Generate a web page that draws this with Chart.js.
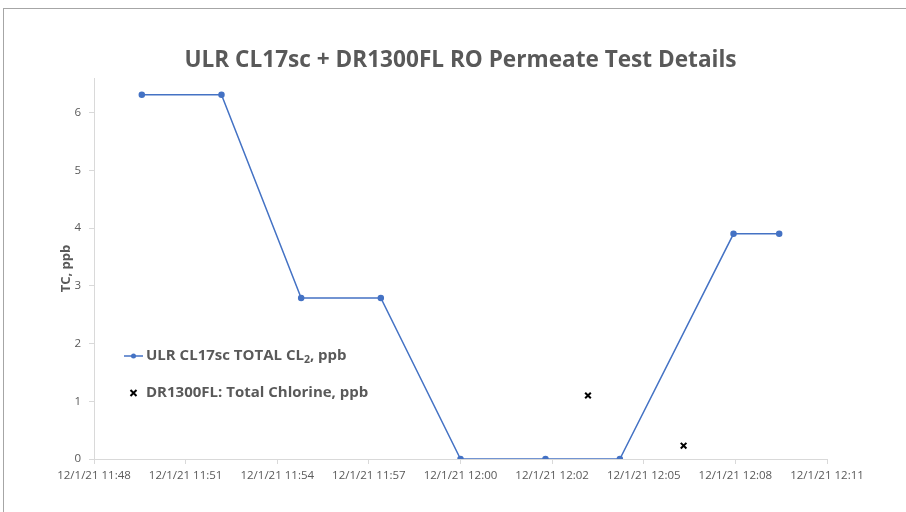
<!DOCTYPE html>
<html>
<head>
<meta charset="utf-8">
<title>ULR CL17sc + DR1300FL RO Permeate Test Details</title>
<script src="https://cdn.jsdelivr.net/npm/chart.js@4.4.1/dist/chart.umd.min.js"></script>
<style>
    html, body { margin: 0; padding: 0; background: #fff; }
    #wrap { position: relative; width: 906px; height: 512px; overflow: hidden; }
    #frame { position: absolute; left: 3px; top: 8px; width: 1000px; height: 600px;
             border: 1px solid #a6a6a6; pointer-events: none; }
</style>
</head>
<body>
<div id="wrap">
    <canvas id="permeateChart" width="906" height="512"></canvas>
    <div id="frame"></div>
</div>
<script>
// Chart data (times on 12/1/21)
var chartTitle = 'ULR CL17sc + DR1300FL RO Permeate Test Details';
var startTime = '11:48:00';
var endTime = '12:11:00';
var xTickLabels = ['12/1/21 11:48', '12/1/21 11:51', '12/1/21 11:54', '12/1/21 11:57', '12/1/21 12:00',
                   '12/1/21 12:02', '12/1/21 12:05', '12/1/21 12:08', '12/1/21 12:11'];
var yTickValues = [0, 1, 2, 3, 4, 5, 6];

var ulrTimes = ['11:49:30', '11:52:00', '11:54:30', '11:57:00', '11:59:30', '12:02:10', '12:04:30', '12:08:04', '12:09:30'];
var ulrValues = [6.31, 6.31, 2.79, 2.79, 0, 0, 0, 3.9, 3.9];

var drTimes = ['12:03:30', '12:06:30'];
var drValues = [1.1, 0.23];

// minutes after the first axis label
function toMinutes(t) {
    var p = t.split(':');
    var s = startTime.split(':');
    return (p[0] * 60 + p[1] * 1 + p[2] / 60) - (s[0] * 60 + s[1] * 1 + s[2] / 60);
}

function makePoints(times, values) {
    var pts = [];
    for (var i = 0; i < times.length; i++) {
        pts.push({ x: toMinutes(times[i]), y: values[i] });
    }
    return pts;
}

var textGray = '#595959';
var axisGray = '#d9d9d9';
var fontFamily = '"Open Sans", "Noto Sans", sans-serif';

// Title and legend drawn where the original has them
var chartDecor = {
    id: 'chartDecor',
    afterDraw: function(chart) {
        var ctx = chart.ctx;
        var ds = chart.data.datasets;
        ctx.save();

        // title
        ctx.font = 'bold 22.6px ' + fontFamily;
        ctx.fillStyle = textGray;
        ctx.textAlign = 'center';
        ctx.textBaseline = 'middle';
        ctx.fillText(chartTitle, 460.5, 61);

        // legend
        ctx.textAlign = 'left';
        ctx.font = 'bold 15px ' + fontFamily;

        // line series entry
        var y1 = 356;
        ctx.strokeStyle = ds[0].borderColor;
        ctx.lineWidth = 1.5;
        ctx.beginPath();
        ctx.moveTo(124, y1);
        ctx.lineTo(143, y1);
        ctx.stroke();
        ctx.fillStyle = ds[0].pointBackgroundColor;
        ctx.beginPath();
        ctx.arc(133.5, y1, 2.5, 0, Math.PI * 2);
        ctx.fill();

        ctx.fillStyle = textGray;
        var x = 146;
        var main = 'ULR CL17sc TOTAL CL';
        ctx.fillText(main, x, y1);
        x += ctx.measureText(main).width;
        ctx.font = 'bold 10.5px ' + fontFamily;
        ctx.fillText('2', x, y1 + 4);
        x += ctx.measureText('2').width;
        ctx.font = 'bold 15px ' + fontFamily;
        ctx.fillText(', ppb', x, y1);

        // scatter series entry
        var y2 = 393;
        ctx.strokeStyle = ds[1].borderColor;
        ctx.lineWidth = 2;
        ctx.beginPath();
        ctx.moveTo(130.5, y2 - 3);
        ctx.lineTo(136.5, y2 + 3);
        ctx.moveTo(136.5, y2 - 3);
        ctx.lineTo(130.5, y2 + 3);
        ctx.stroke();
        ctx.fillText(ds[1].label, 146, y2);
        ctx.restore();
    }
};

var ctx = document.getElementById('permeateChart').getContext('2d');

var permeateChart = new Chart(ctx, {
    type: 'scatter',
    data: {
        datasets: [
            {
                label: 'ULR CL17sc TOTAL CL\u2082, ppb',
                data: makePoints(ulrTimes, ulrValues),
                showLine: true,
                borderColor: '#4472c4',
                backgroundColor: '#4472c4',
                pointBackgroundColor: '#4472c4',
                pointBorderColor: '#4472c4',
                borderWidth: 1.5,
                pointRadius: 2.5,
                tension: 0
            },
            {
                label: 'DR1300FL: Total Chlorine, ppb',
                data: makePoints(drTimes, drValues),
                showLine: false,
                borderColor: '#000000',
                backgroundColor: '#000000',
                pointStyle: 'crossRot',
                pointRadius: 4,
                pointBorderWidth: 2
            }
        ]
    },
    options: {
        responsive: false,
        animation: false,
        events: [],
        layout: {
            padding: { left: 0, right: 79, top: 78, bottom: 0 }
        },
        plugins: {
            legend: { display: false },
            tooltip: { enabled: false },
            title: { display: false }
        },
        scales: {
            x: {
                type: 'linear',
                min: 0,
                max: toMinutes(endTime),
                afterBuildTicks: function(scale) {
                    var step = scale.max / (xTickLabels.length - 1);
                    scale.ticks = xTickLabels.map(function(l, i) { return { value: i * step }; });
                },
                ticks: {
                    color: textGray,
                    font: { family: fontFamily, size: 11.5 },
                    padding: 5,
                    maxRotation: 0,
                    autoSkip: false,
                    callback: function(value, index) { return xTickLabels[index]; }
                },
                grid: { drawOnChartArea: false, color: axisGray, tickLength: 5 },
                border: { color: axisGray, width: 1 },
                afterFit: function(scale) { scale.height = 53; }
            },
            y: {
                min: 0,
                max: 6.6,
                afterBuildTicks: function(scale) {
                    scale.ticks = yTickValues.map(function(v) { return { value: v }; });
                },
                ticks: {
                    color: textGray,
                    font: { family: fontFamily, size: 11.5 },
                    padding: 8
                },
                grid: { drawOnChartArea: false, color: axisGray, tickLength: 5 },
                border: { color: axisGray, width: 1 },
                title: {
                    display: true,
                    text: 'TC, ppb',
                    color: textGray,
                    font: { family: fontFamily, size: 13, weight: 'bold' },
                    padding: { top: 58, bottom: 0 }
                },
                afterFit: function(scale) { scale.width = 94; }
            }
        }
    },
    plugins: [chartDecor]
});
</script>
</body>
</html>
